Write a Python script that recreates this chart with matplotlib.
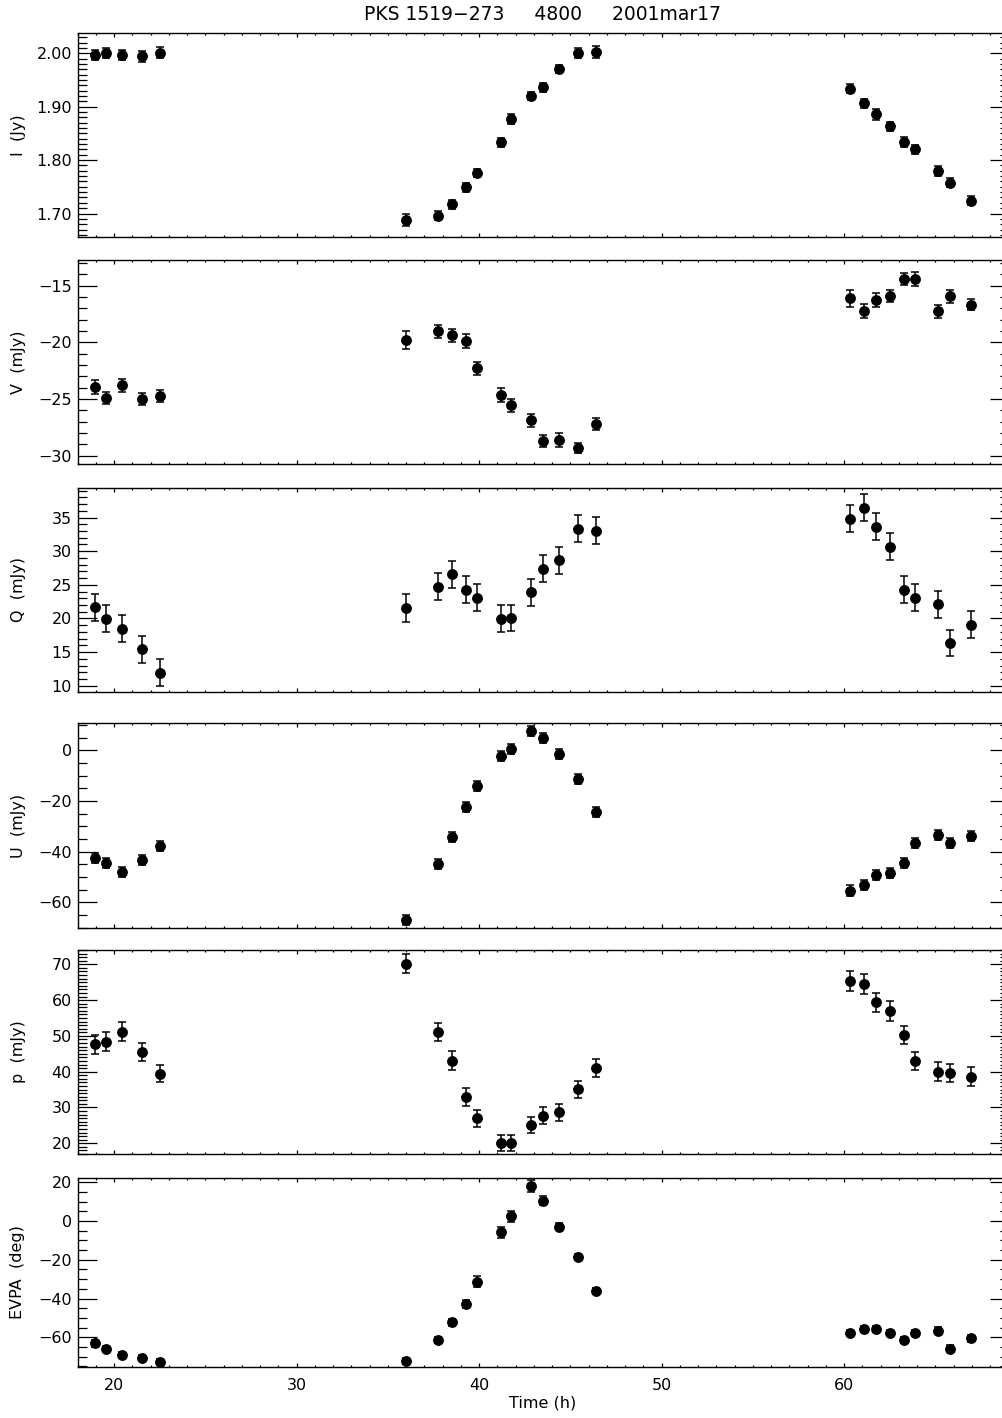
import numpy as np
import matplotlib
matplotlib.use('Agg')
import matplotlib.pyplot as plt
from matplotlib.ticker import MultipleLocator, FuncFormatter

# Time of each scan (h)
time_h = [18.96, 19.58, 20.45, 21.52, 22.50,
          36.02, 37.77, 38.50, 39.30, 39.89, 41.19, 41.75, 42.87, 43.49, 44.37, 45.42, 46.41,
          60.33, 61.08, 61.75, 62.50, 63.29, 63.89, 65.15, 65.79, 66.96]

# Stokes I (Jy)
stokes_i = [1.997, 2.000, 1.997, 1.994, 2.001,
            1.688, 1.696, 1.717, 1.749, 1.776, 1.833, 1.877, 1.920, 1.936, 1.971, 2.000, 2.003,
            1.934, 1.906, 1.886, 1.863, 1.834, 1.820, 1.780, 1.758, 1.724]
stokes_i_err = [0.009, 0.009, 0.009, 0.010, 0.010,
                0.012, 0.009, 0.008, 0.009, 0.008, 0.009, 0.009, 0.008, 0.009, 0.008, 0.009, 0.011,
                0.009, 0.009, 0.010, 0.008, 0.009, 0.008, 0.009, 0.009, 0.008]

# Stokes V (mJy)
stokes_v = [-23.92, -24.89, -23.80, -25.00, -24.71,
            -19.77, -19.03, -19.38, -19.86, -22.30, -24.62, -25.56, -26.89, -28.68, -28.60, -29.33, -27.18,
            -16.12, -17.24, -16.27, -15.89, -14.41, -14.41, -17.26, -15.94, -16.68]
stokes_v_err = [0.60, 0.55, 0.55, 0.50, 0.55,
                0.80, 0.60, 0.60, 0.60, 0.55, 0.60, 0.60, 0.60, 0.55, 0.60, 0.45, 0.55,
                0.75, 0.60, 0.60, 0.55, 0.55, 0.60, 0.55, 0.55, 0.50]

# Stokes Q (mJy)
stokes_q = [21.67, 19.97, 18.48, 15.42, 11.94,
            21.60, 24.73, 26.58, 24.29, 23.10, 19.93, 20.07, 23.90, 27.37, 28.66, 33.32, 33.07,
            34.85, 36.44, 33.66, 30.64, 24.29, 23.10, 22.11, 16.35, 19.08]
stokes_q_err = [2.0, 2.0, 2.0, 2.0, 2.0,
                2.1, 2.0, 2.0, 2.0, 2.0, 2.0, 2.0, 2.0, 2.0, 2.0, 2.0, 2.0,
                2.0, 2.0, 2.0, 2.0, 2.0, 2.0, 2.0, 2.0, 2.0]

# Stokes U (mJy)
stokes_u = [-42.6, -44.4, -48.0, -43.2, -37.8,
            -67.0, -44.9, -34.1, -22.4, -14.1, -2.1, 0.6, 7.6, 5.0, -1.6, -11.3, -24.4,
            -55.4, -53.3, -49.1, -48.3, -44.4, -36.5, -33.4, -36.5, -33.8]
stokes_u_err = [2.0, 2.0, 2.0, 2.0, 2.0,
                2.1, 2.0, 2.0, 2.0, 2.0, 2.0, 2.0, 2.0, 2.0, 2.0, 2.0, 2.0,
                2.1, 2.0, 2.0, 2.0, 2.0, 2.0, 2.0, 2.0, 2.0]

# Polarised flux p (mJy)
pol_flux = [47.65, 48.40, 51.20, 45.60, 39.44,
            70.20, 51.10, 43.10, 33.00, 27.00, 20.00, 20.00, 25.03, 27.70, 28.66, 35.08, 40.95,
            65.30, 64.50, 59.40, 57.00, 50.30, 43.00, 40.00, 39.60, 38.60]
pol_flux_err = [2.6, 2.6, 2.6, 2.5, 2.4,
                2.6, 2.6, 2.6, 2.5, 2.4, 2.2, 2.2, 2.3, 2.3, 2.3, 2.4, 2.5,
                2.8, 2.8, 2.7, 2.7, 2.6, 2.6, 2.6, 2.6, 2.6]

# Polarisation angle (deg)
evpa = [-63.0, -66.0, -69.3, -70.6, -72.9,
        -72.3, -61.3, -52.2, -42.9, -31.3, -5.9, 2.4, 18.2, 10.5, -2.9, -18.4, -36.2,
        -57.9, -55.6, -55.5, -57.7, -61.3, -57.7, -56.5, -66.0, -60.5]
evpa_err = [1.8, 1.6, 1.6, 1.6, 1.6,
            1.4, 1.6, 1.8, 2.2, 2.8, 2.6, 2.8, 3.0, 2.4, 1.8, 1.6, 1.6,
            1.6, 1.6, 1.6, 1.6, 1.6, 1.6, 1.8, 1.8, 1.8]

panels = [
    (stokes_i, stokes_i_err, 'I  (Jy)', (1.656, 2.038), 0.1, 0.01, '%.2f'),
    (stokes_v, stokes_v_err, 'V  (mJy)', (-30.73, -12.73), 5, 1, '%d'),
    (stokes_q, stokes_q_err, 'Q  (mJy)', (9.06, 39.4), 5, 1, '%d'),
    (stokes_u, stokes_u_err, 'U  (mJy)', (-70.1, 10.8), 20, 5, '%d'),
    (pol_flux, pol_flux_err, 'p  (mJy)', (17.0, 74.0), 10, 1, '%d'),
    (evpa, evpa_err, 'EVPA  (deg)', (-75.3, 22.2), 20, 5, '%d'),
]

# panel extents in pixels (top, bottom)
W, H = 1002, 1418
rows = [(33, 237), (260, 464), (488, 692), (723, 928), (950, 1154), (1178, 1367)]
x_left, x_right = 77.5, 1008.5


def minus_fmt(fmt):
    # proper minus sign like the original plot
    return FuncFormatter(lambda v, pos: (fmt % round(v, 6)).replace('-', '\u2212'))


plt.rcParams['font.family'] = 'DejaVu Sans'
plt.rcParams['font.size'] = 11.5

fig = plt.figure(figsize=(W / 100, H / 100), dpi=100)

for k, (vals, errs, label, ylim, major, minor, fmt) in enumerate(panels):
    top, bot = rows[k]
    ax = fig.add_axes([x_left / W, 1 - bot / H, (x_right - x_left) / W, (bot - top) / H])
    ax.errorbar(time_h, vals, yerr=errs, fmt='o', color='black', ms=6.8,
                elinewidth=1.1, capsize=3.2, capthick=1.1)
    ax.set_xlim(18, 69)
    ax.set_ylim(*ylim)
    ax.xaxis.set_major_locator(MultipleLocator(10))
    ax.xaxis.set_minor_locator(MultipleLocator(1))
    ax.yaxis.set_major_locator(MultipleLocator(major))
    ax.yaxis.set_minor_locator(MultipleLocator(minor))
    ax.yaxis.set_major_formatter(minus_fmt(fmt))
    xt = 0.02 * (bot - top) * 0.72
    ax.tick_params(axis='x', which='major', direction='in', top=True, length=xt, width=0.9, pad=8)
    ax.tick_params(axis='x', which='minor', direction='in', top=True, length=xt / 2, width=0.9)
    ax.tick_params(axis='y', which='major', direction='in', right=True, length=13.5, width=0.9, pad=4)
    ax.tick_params(axis='y', which='minor', direction='in', right=True, length=6.7, width=0.9)
    for s in ax.spines.values():
        s.set_linewidth(1.0)
    if k < len(panels) - 1:
        ax.set_xticklabels([])
    else:
        ax.set_xlabel('Time (h)', labelpad=2)
    fig.text(18 / W, 1 - (top + bot) / 2 / H, label, rotation=90, ha='center', va='center')

fig.text(542 / W, 1 - 14 / H, 'PKS 1519\u2212273     4800     2001mar17',
         ha='center', va='center', fontsize=13.5)

plt.savefig('out.png', dpi=100)
